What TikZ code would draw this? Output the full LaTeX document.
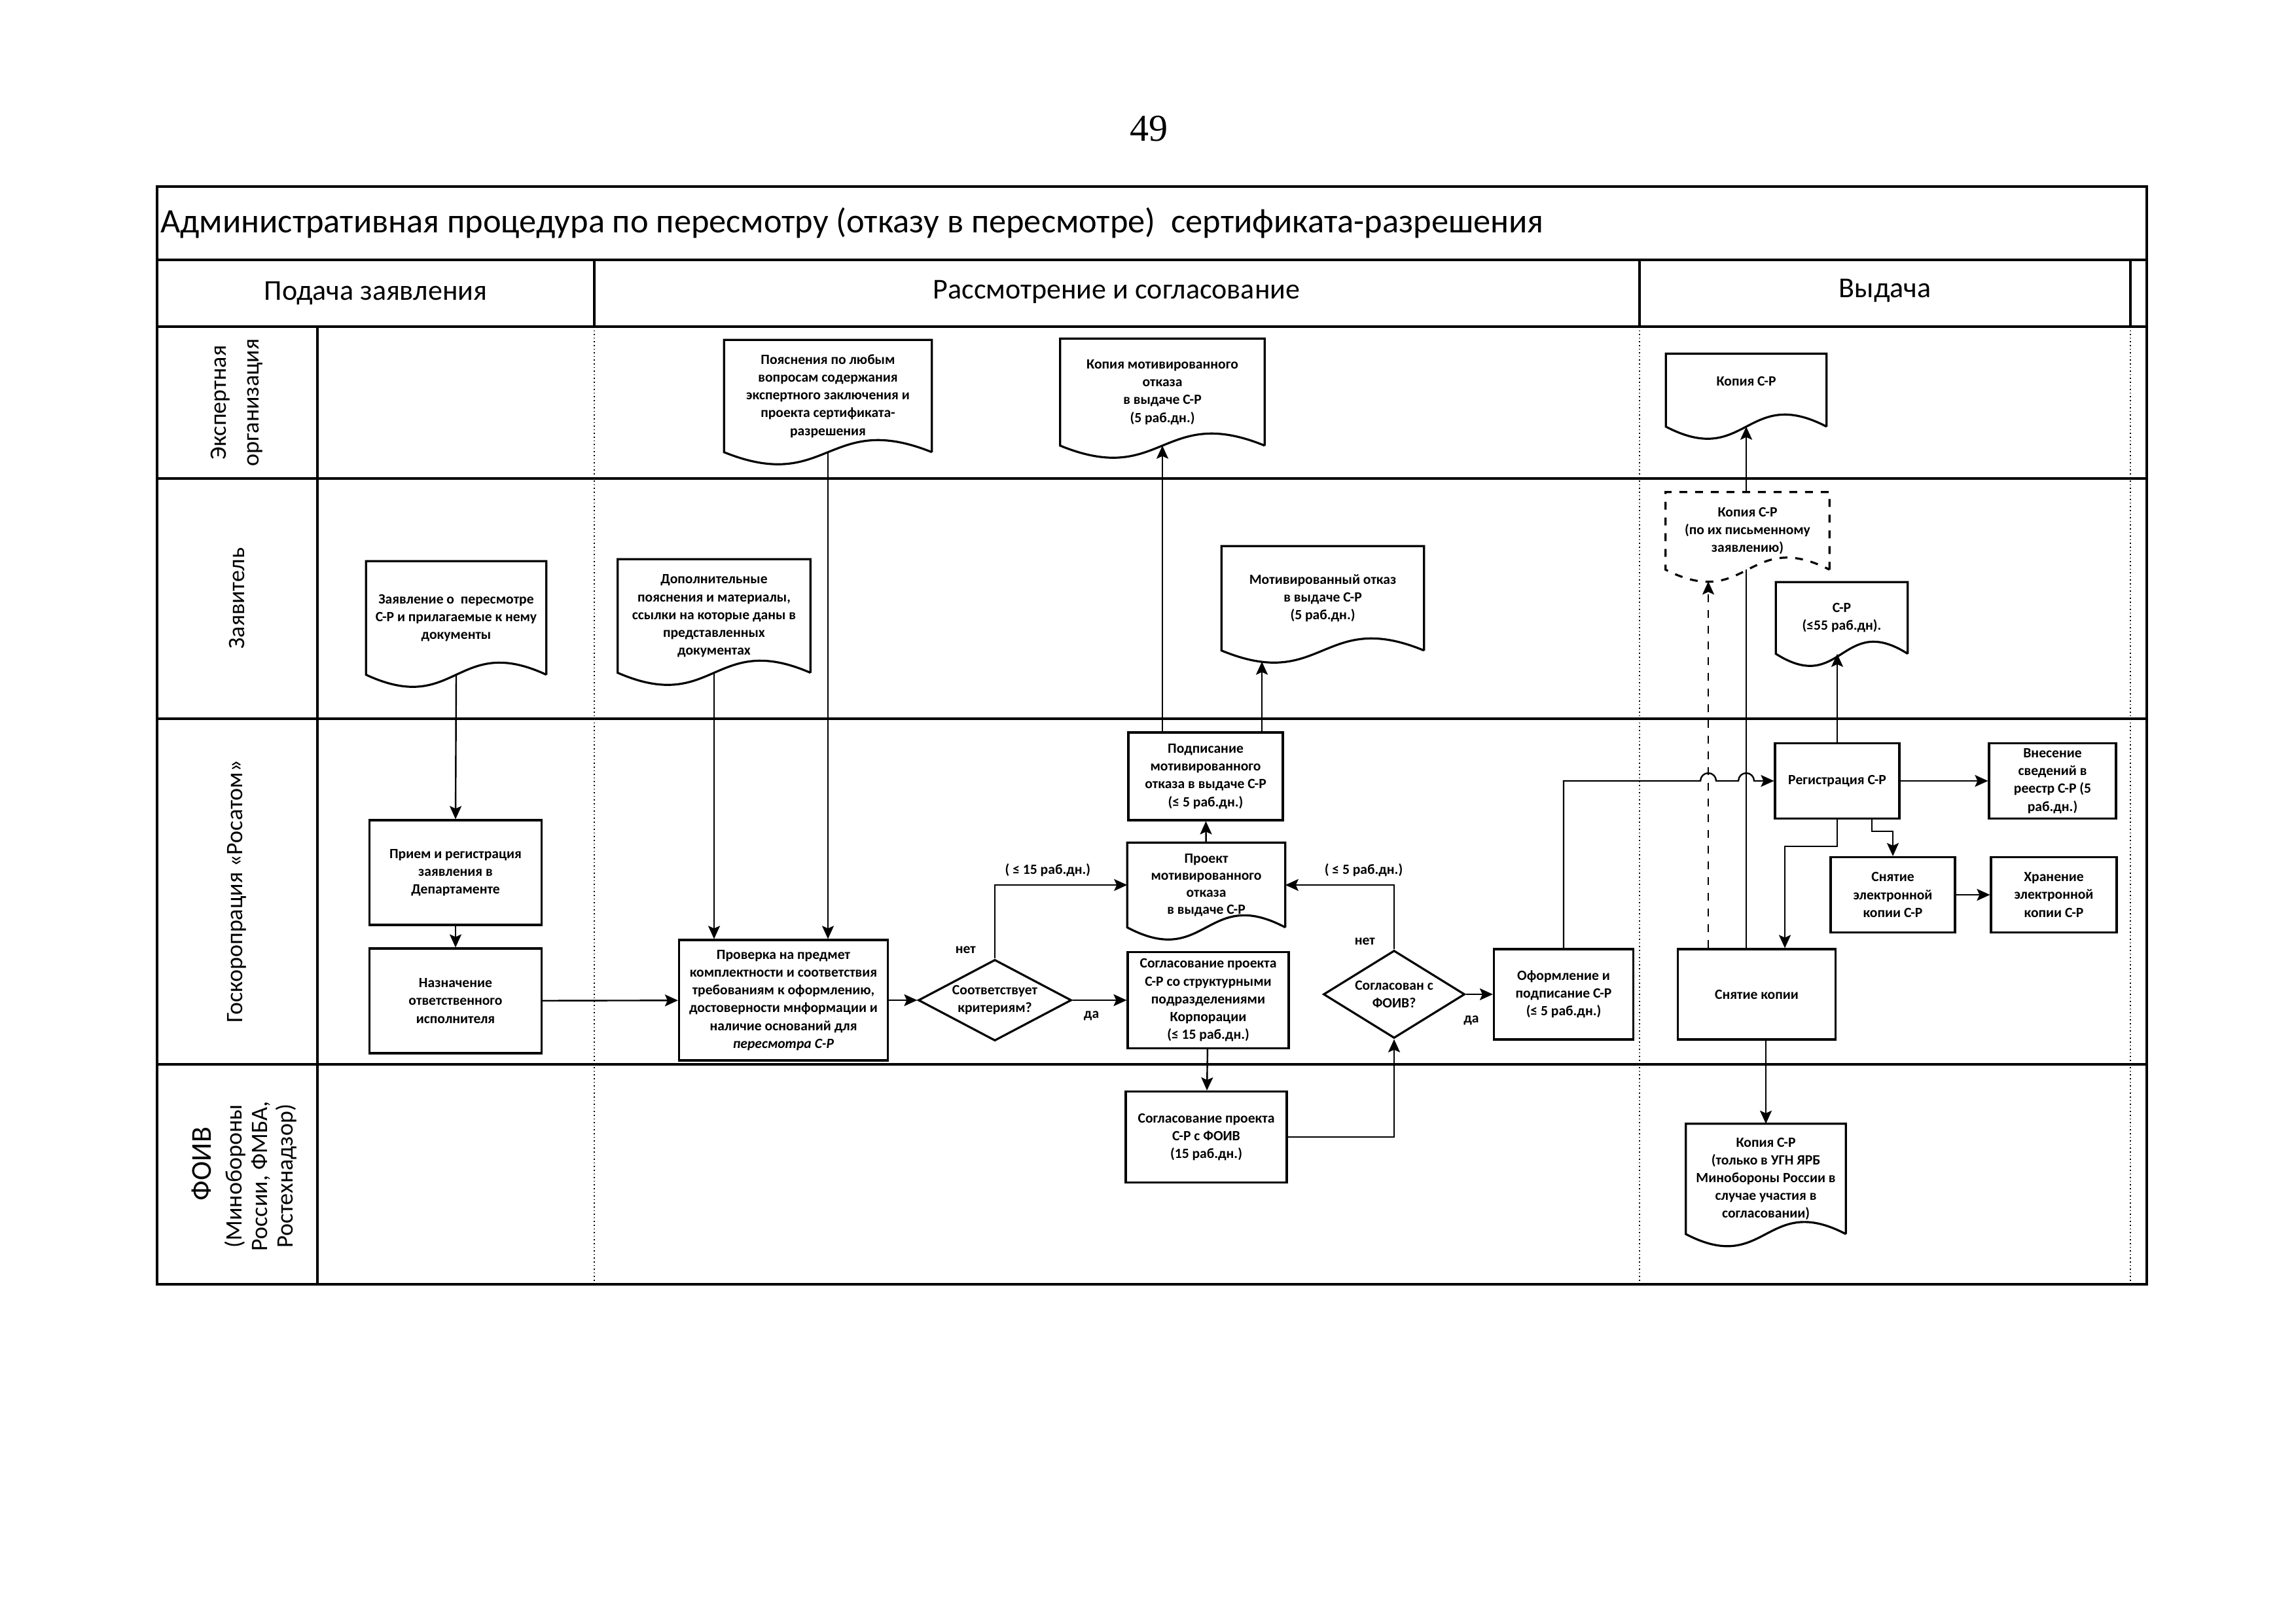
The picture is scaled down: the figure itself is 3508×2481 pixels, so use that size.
\documentclass[tikz,border=0pt]{standalone}
\usepackage{fontspec}
\setmainfont{Carlito}
\newfontfamily\pagefont{Liberation Serif}
\usetikzlibrary{shapes.geometric, arrows.meta, calc}

% outline of a document shape (wavy bottom) round a node
\newcommand{\docframe}[2][]{%
  \draw[line width=0.8pt, #1] (#2.south east) -- (#2.north east) -- (#2.north west) -- (#2.south west)
    .. controls ([yshift=-16pt]#2.south) and ([yshift=16pt]#2.south) .. (#2.south east);}

\begin{document}
\begin{tikzpicture}[x=0.25pt, y=-0.25pt,
  wh/.style 2 args={minimum width={#1*0.25pt}, minimum height={#2*0.25pt}},
  box/.style={rectangle, draw, line width=0.8pt, fill=white, align=center, inner sep=1pt, font=\fontsize{5.4}{6.8}\selectfont\bfseries},
  doc/.style={rectangle, fill=white, align=center, inner sep=1pt, font=\fontsize{5.4}{6.8}\selectfont\bfseries},
  dec/.style={diamond, draw, line width=0.8pt, fill=white, align=center, inner sep=0pt, font=\fontsize{5.4}{6.8}\selectfont\bfseries},
  arr/.style={-{Stealth[length=5pt, width=4.5pt, inset=1pt]}, line width=0.6pt},
  lbl/.style={font=\fontsize{5.4}{6.8}\selectfont\bfseries, inner sep=1pt},
  lane/.style={rotate=90, align=center, font=\fontsize{9}{12.5}\selectfont},
  hdr/.style={font=\fontsize{11}{13}\selectfont},
  tline/.style={line width=0.8pt},
  phase/.style={densely dotted, line width=0.4pt}
]
\useasboundingbox (0,0) rectangle (3508,2481);

% table
\draw[tline] (240,285) rectangle (3280,1962);
\foreach \y in {397,499,731,1098,1626}
  \draw[tline] (240,\y) -- (3280,\y);
\draw[tline] (485,499) -- (485,1962);
\foreach \x in {908,2505,3255} {
  \draw[tline] (\x,397) -- (\x,499);
  \draw[phase] (\x,499) -- (\x,1962);
}

% headings
\node[font=\pagefont\fontsize{14.5}{16}\selectfont] (pnum) at (1755,197) {49};
\node[anchor=west, font=\fontsize{13.1}{15}\selectfont] (title) at (231,341) {Административная процедура по пересмотру (отказу в пересмотре)\ \ сертификата-разрешения};
\node[hdr] (ph1) at (574,448) {Подача заявления};
\node[hdr] (ph2) at (1706,446) {Рассмотрение и согласование};
\node[hdr] (ph3) at (2880,444) {Выдача};

% lanes
\node[lane] (lexp) at (362,615) {Экспертная\\организация};
\node[lane] (lapp) at (362,914) {Заявитель};
\node[lane] (lgk) at (362,1362) {Госкоропрация «Росатом»};
\node[lane, font=\fontsize{11}{13}\selectfont] (lfoiv) at (308,1778) {ФОИВ};
\node[lane, font=\fontsize{9}{9.75}\selectfont] (lfoivb) at (398,1797) {(Минобороны\\России, ФМБА,\\Ростехнадзор)};

% expert organisation
\node[doc, wh={316}{170}] (poyasn) at (1265,605) {Пояснения по любым\\вопросам содержания\\экспертного заключения и\\проекта сертификата-\\разрешения};
\docframe{poyasn}
\node[doc, wh={311}{162}] (kopotk) at (1776,599) {Копия мотивированного\\отказа\\в выдаче С-Р\\(5 раб.дн.)};
\docframe{kopotk}
\node[doc, wh={244}{110}] (kopsr) at (2668,596) {Копия С-Р\\~};
\docframe{kopsr}

% applicant
\node[doc, wh={274}{172}] (zdoc) at (697,944) {Заявление о\ \ пересмотре\\С-Р и прилагаемые к нему\\документы};
\docframe{zdoc}
\node[doc, wh={293}{172}] (dopdoc) at (1091,941) {Дополнительные\\пояснения и материалы,\\ссылки на которые даны в\\представленных\\документах};
\docframe{dopdoc}
\node[doc, wh={308}{158}] (otkdoc) at (2021,914) {Мотивированный отказ\\в выдаче С-Р\\(5 раб.дн.)};
\docframe{otkdoc}
\node[doc, wh={200}{108}] (srdoc) at (2814,944) {С-Р\\(≤55 раб.дн).};
\docframe{srdoc}

% state corporation
\node[box, wh={263}{160}] (priem) at (696,1333) {Прием и регистрация\\заявления в\\Департаменте};
\node[box, wh={263}{160}] (naznach) at (696,1529) {Назначение\\ответственного\\исполнителя};
\node[box, wh={319}{184}] (prov) at (1197,1528) {Проверка на предмет\\комплектности и соответствия\\требованиям к оформлению,\\достоверности мнформации и\\наличие оснований для\\\textit{пересмотра С-Р}};
\node[dec, aspect=1.9, wh={234}{124}] (crit) at (1520,1528) {Соответствует\\критериям?};
\node[box, wh={236}{134}] (podpis) at (1842,1186) {Подписание\\мотивированного\\отказа в выдаче С-Р\\(≤ 5 раб.дн.)};
\node[doc, wh={240}{128}, font=\fontsize{5.4}{6.5}\selectfont\bfseries] (proekt) at (1843,1352) {Проект\\мотивированного\\отказа\\в выдаче С-Р};
\docframe{proekt}
\node[box, wh={246}{147}] (soglstr) at (1846,1528) {Согласование проекта\\С-Р со структурными\\подразделениями\\Корпорации\\(≤ 15 раб.дн.)};
\node[dec, aspect=1.7, wh={216}{134}] (foivq) at (2130,1519) {Согласован с\\ФОИВ?};
\node[box, wh={213}{138}] (oform) at (2389,1519) {Оформление и\\подписание С-Р\\(≤ 5 раб.дн.)};
\node[box, wh={190}{115}] (reg) at (2807,1193) {Регистрация С-Р};
\node[box, wh={194}{115}] (vnes) at (3136,1193) {Внесение\\сведений в\\реестр С-Р (5\\раб.дн.)};
\node[box, wh={190}{115}] (snel) at (2892,1367) {Снятие\\электронной\\копии С-Р};
\node[box, wh={192}{115}] (hran) at (3138,1367) {Хранение\\электронной\\копии С-Р};
\node[box, wh={241}{138}] (snkop) at (2684,1519) {Снятие копии};

% federal bodies
\node[box, wh={246}{139}] (soglfoiv) at (1843,1737) {Согласование проекта\\С-Р с ФОИВ\\(15 раб.дн.)};
\node[doc, wh={243}{167}] (kopfoiv) at (2698,1801) {Копия С-Р\\(только в УГН ЯРБ\\Минобороны России в\\случае участия в\\согласовании)};
\docframe{kopfoiv}

% connectors
\draw[arr] (zdoc.south) -- (priem.north);
\draw[arr] (priem) -- (naznach);
\draw[arr] (naznach) -- (prov);
\draw[arr] (dopdoc.south) -- (dopdoc.south |- prov.north);
\draw[arr] (poyasn.south) -- (poyasn.south |- prov.north);
\draw[arr] (prov) -- (crit);
\draw[arr] (crit) -- node[lbl, pos=0.35, below=3pt] {да} (soglstr);
\draw[arr] (crit.north) |- node[lbl, pos=0.06, left=6pt] {нет} node[lbl, pos=0.7, above=2pt] {( ≤ 15 раб.дн.)} (proekt.west);
\draw[arr] (proekt) -- (podpis);
\draw[arr] (kopotk.south |- podpis.north) -- (kopotk.south);
\draw[arr] ($(podpis.north)+(86,0)$) -- ($(podpis.north |- otkdoc.south)+(86,17)$);
\draw[arr] (soglstr) -- (soglfoiv);
\draw[arr] (soglfoiv.east) -| (foivq.south);
\draw[arr] (foivq.north) |- node[lbl, pos=0.06, left=6pt] {нет} node[lbl, pos=0.64, above=2pt] {( ≤ 5 раб.дн.)} (proekt.east);
\draw[arr] (foivq) -- node[lbl, pos=0.2, below=7pt] {да} (oform);

\coordinate (cpa) at ($(snkop.north)+(-74,0)$);
\coordinate (cpb) at (kopsr.south |- snkop.north);
\draw[arr] (oform.north) |- ($(cpa |- reg.west)+(-12,0)$) arc[start angle=180, end angle=360, radius=12]
  -- ($(cpb |- reg.west)+(-12,0)$) arc[start angle=180, end angle=360, radius=12] -- (reg.west);
\draw[arr] (reg) -- (vnes);
\draw[arr] (reg.north) -- (reg.north |- srdoc.south);
\draw[arr] ($(reg.south)+(53,0)$) -- ++(0,18) -| (snel.north);
\draw[arr] (reg.south) -- ++(0,41) -| ($(snkop.north)+(43,0)$);
\draw[arr] (snel) -- (hran);
\draw[arr] (kopfoiv.north |- snkop.south) -- (kopfoiv.north);
\draw[arr] (cpb) -- (kopsr.south);

% copy on written request, over the line above
\node[doc, wh={249}{117}] (kopreq) at (2670,811) {Копия С-Р\\(по их письменному\\заявлению)};
\docframe[dashed]{kopreq}
\draw[arr, dashed] (cpa) -- ($(cpa |- kopreq.south)+(0,18)$);

\end{tikzpicture}
\end{document}
